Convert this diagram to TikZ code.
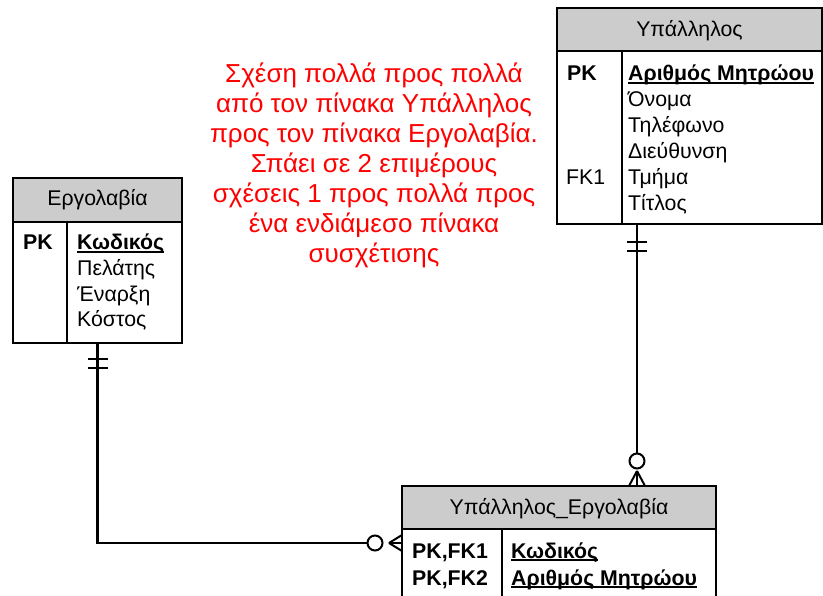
\documentclass[tikz,border=0pt]{standalone}
\usepackage{fontspec}
\setmainfont{Liberation Sans}
\usetikzlibrary{calc}
\definecolor{hdrgray}{RGB}{204,204,204}
\newcommand{\ulx}[1]{\setbox0\hbox{#1}\rlap{\rule[-2.8pt]{\wd0}{1.6pt}}\box0}
\begin{document}
\begin{tikzpicture}[x=1pt,y=-1pt,
  hdr/.style={draw, line width=1.5pt, fill=hdrgray, anchor=north west, inner sep=0, outer sep=0},
  bodybox/.style={draw, line width=1.5pt, fill=white, anchor=north west, inner sep=0, outer sep=0},
  sep/.style={line width=1.5pt},
  ttl/.style={font=\fontsize{21.3}{24}\selectfont, inner sep=0, anchor=base},
  fld/.style={font=\fontsize{21.3}{24}\selectfont, inner sep=0, anchor=base west},
  key/.style={fld, font=\fontsize{21.3}{24}\selectfont\bfseries},
  note/.style={font=\fontsize{26}{30}\selectfont, text=red, inner sep=0, anchor=base},
  conn/.style={line width=2.6pt},
  bar/.style={line width=2.4pt},
  ring/.style={line width=2pt, fill=white},
  prong/.style={line width=2pt}
]
\useasboundingbox (0,0) rectangle (823,596);

% ---------- Υπάλληλος ----------
\node[hdr, minimum width=265pt, minimum height=43pt] (empH) at (557,8) {};
\node[bodybox, minimum width=265pt, minimum height=173pt] (empB) at (557,51) {};
\draw[sep] (622,51) -- (622,224);
\node[ttl] (empT) at (689.5,37) {Υπάλληλος};
\node[key] (empK1) at (567,81) {PK};
\node[fld] (empK2) at (566,185) {FK1};
\node[key] (empA1) at (628,81) {\ulx{Αριθμός Μητρώου}};
\node[fld] (empA2) at (628,107) {Όνομα};
\node[fld] (empA3) at (628,133) {Τηλέφωνο};
\node[fld] (empA4) at (628,159) {Διεύθυνση};
\node[fld] (empA5) at (628,185) {Τμήμα};
\node[fld] (empA6) at (628,211) {Τίτλος};

% ---------- Εργολαβία ----------
\node[hdr, minimum width=169pt, minimum height=44pt] (ergH) at (13,178) {};
\node[bodybox, minimum width=169pt, minimum height=121pt] (ergB) at (13,222) {};
\draw[sep] (67,222) -- (67,343);
\node[ttl] (ergT) at (97.5,206) {Εργολαβία};
\node[key] (ergK1) at (23,250) {PK};
\node[key] (ergA1) at (77,250) {\ulx{Κωδικός}};
\node[fld] (ergA2) at (77,276) {Πελάτης};
\node[fld] (ergA3) at (77,302) {Έναρξη};
\node[fld] (ergA4) at (77,327) {Κόστος};

% ---------- Υπάλληλος_Εργολαβία ----------
\node[hdr, minimum width=314pt, minimum height=43pt] (jnH) at (402,486) {};
\node[bodybox, minimum width=314pt, minimum height=90pt] (jnB) at (402,529) {};
\draw[sep] (502,529) -- (502,619);
\node[ttl] (jnT) at (559,514) {Υπάλληλος\_Εργολαβία};
\node[key] (jnK1) at (412,558) {PK,FK1};
\node[key] (jnK2) at (412,585) {PK,FK2};
\node[key] (jnA1) at (511,558) {\ulx{Κωδικός}};
\node[key] (jnA2) at (511,585) {\ulx{Αριθμός Μητρώου}};

% ---------- note ----------
\node[note] (n1) at (374,83) {Σχέση πολλά προς πολλά};
\node[note] (n2) at (374,113) {από τον πίνακα Υπάλληλος};
\node[note] (n3) at (374,143) {προς τον πίνακα Εργολαβία.};
\node[note] (n4) at (374,173) {Σπάει σε 2 επιμέρους};
\node[note] (n5) at (374,203) {σχέσεις 1 προς πολλά προς};
\node[note] (n6) at (374,233) {ένα ενδιάμεσο πίνακα};
\node[note] (n7) at (374,263) {συσχέτισης};

% ---------- connector Εργολαβία -> Υπάλληλος_Εργολαβία ----------
\path (jnB.north west) ++(0,14) coordinate (jL);
\path (jL) ++(-27,0) coordinate (cL);
\draw[conn] (ergB.south) |- ($(cL)+(-7.5,0)$);
\draw[bar] ($(ergB.south)+(-10,16)$) -- ++(20,0);
\draw[bar] ($(ergB.south)+(-10,25)$) -- ++(20,0);
\draw[ring] (cL) circle (7.5pt);
\draw[prong] ($(jL)+(-13,0)$) -- ($(jL)+(0,-8)$);
\draw[prong] ($(jL)+(-13,0)$) -- (jL);
\draw[prong] ($(jL)+(-13,0)$) -- ($(jL)+(0,8)$);

% ---------- connector Υπάλληλος -> Υπάλληλος_Εργολαβία ----------
\path (empB.south west) ++(80,0) coordinate (eS);
\path (jnH.north west) ++(235,0) coordinate (jT);
\path (jT) ++(0,-25) coordinate (cT);
\draw[conn] (eS) -- ($(cT)+(0,-7.5)$);
\draw[bar] ($(eS)+(-10,18)$) -- ++(20,0);
\draw[bar] ($(eS)+(-10,27)$) -- ++(20,0);
\draw[ring] (cT) circle (7.5pt);
\draw[prong] ($(jT)+(0,-15)$) -- ($(jT)+(-8,0)$);
\draw[prong] ($(jT)+(0,-15)$) -- (jT);
\draw[prong] ($(jT)+(0,-15)$) -- ($(jT)+(8,0)$);
\end{tikzpicture}
\end{document}
